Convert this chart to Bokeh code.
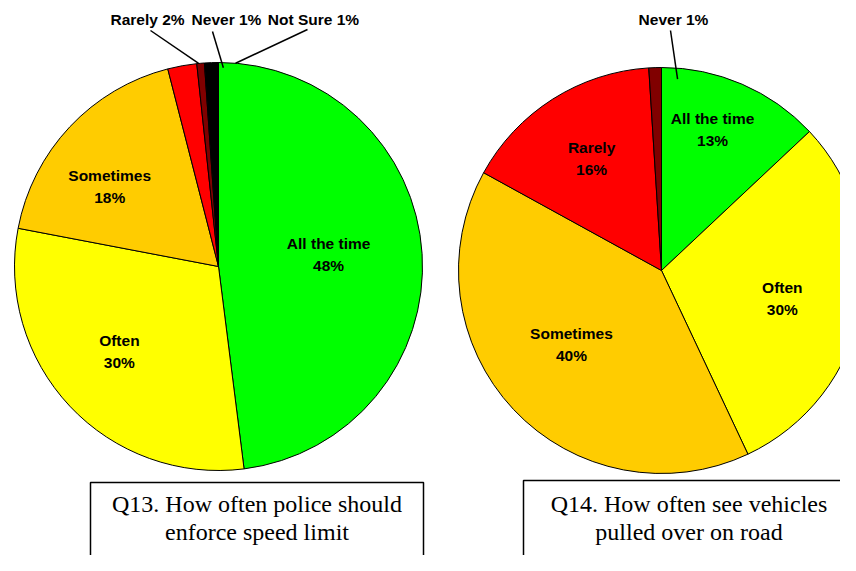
import numpy as np
from bokeh.plotting import figure
from bokeh.models import Range1d, ColumnDataSource
from bokeh.core.properties import value
from bokeh.embed import file_html
from bokeh.resources import INLINE

# ---------------- data ----------------
q13_categories = ["All the time", "Often", "Sometimes", "Rarely", "Never", "Not Sure"]
q13_values = [48, 30, 18, 2.3, 0.6, 1.1]
q13_colors = ["#00FF00", "#FFFF00", "#FFCC00", "#FF0000", "#800000", "#000000"]
q13_title = ["Q13. How often police should", "enforce speed limit"]

q14_categories = ["All the time", "Often", "Sometimes", "Rarely", "Never"]
q14_values = [13, 30, 40, 16, 1]
q14_colors = ["#00FF00", "#FFFF00", "#FFCC00", "#FF0000", "#800000"]
q14_title = ["Q14. How often see vehicles", "pulled over on road"]

# ---------------- layout ----------------
W, H = 840, 555
LABEL_FONT = value("Liberation Sans")
LABEL_SIZE = "15.5px"
CAPTION_FONT = value("Liberation Serif")


def Y(y_img):
    return H - y_img


p = figure(width=W, height=H, x_range=Range1d(0, W), y_range=Range1d(0, H),
           output_backend="svg", toolbar_location=None, min_border=0)
p.axis.visible = False
p.grid.visible = False
p.outline_line_color = None
p.background_fill_color = "white"


def polar(cx, cy, ang_deg, dist):
    a = np.radians(ang_deg)
    return cx + dist * np.sin(a), Y(cy) + dist * np.cos(a)


def draw_pie(cx, cy, r, cats, vals, cols, inner, outer):
    v = np.array(vals, dtype=float)
    frac = v / v.sum()
    cum = np.concatenate([[0.0], np.cumsum(frac)])
    start = np.pi / 2 - 2 * np.pi * cum[:-1]
    end = np.pi / 2 - 2 * np.pi * cum[1:]
    src = ColumnDataSource(dict(start=start, end=end, color=cols))
    p.wedge(x=cx, y=Y(cy), radius=r, start_angle="start", end_angle="end",
            direction="clock", fill_color="color", line_color="black",
            line_width=1, source=src)
    # inner labels: (index, angle clockwise from top, radial fraction)
    for idx, ang, fr in inner:
        x, y = polar(cx, cy, ang, fr * r)
        pct = f"{round(vals[idx])}%"
        p.text(x=[x], y=[y + 11], text=[cats[idx]], text_font=LABEL_FONT,
               text_font_size=LABEL_SIZE, text_font_style="bold",
               text_align="center", text_baseline="middle", text_color="black")
        p.text(x=[x], y=[y - 11], text=[pct], text_font=LABEL_FONT,
               text_font_size=LABEL_SIZE, text_font_style="bold",
               text_align="center", text_baseline="middle", text_color="black")
    # outer labels: (index, label x, label y, line start x, line start y, end angle, end radial fraction)
    for idx, lx, ly, sx, sy, ang, fr in outer:
        pct = f"{round(vals[idx])}%"
        p.text(x=[lx], y=[Y(ly)], text=[f"{cats[idx]} {pct}"], text_font=LABEL_FONT,
               text_font_size=LABEL_SIZE, text_font_style="bold",
               text_align="center", text_baseline="middle", text_color="black")
        ex, ey = polar(cx, cy, ang, fr * r)
        p.segment(x0=[sx], y0=[Y(sy)], x1=[ex], y1=[ey], line_color="black", line_width=1.5)


draw_pie(218, 266, 204, q13_categories, q13_values, q13_colors,
         inner=[(0, 83.8, 0.543), (1, 229.4, 0.64), (2, 306.3, 0.662)],
         outer=[(3, 147, 19, 150, 30, 354.4, 1.0),
                (4, 226, 19, 212, 31, 1.4, 0.975),
                (5, 313, 19, 307, 29, 4.8, 1.0)])

draw_pie(661, 270, 203, q14_categories, q14_values, q14_colors,
         inner=[(0, 19.9, 0.739), (1, 103.0, 0.611), (2, 230.6, 0.574), (3, 328.0, 0.65)],
         outer=[(4, 673, 19, 670, 30, 4.8, 0.946)])


def caption(left, right, top, lines):
    p.quad(left=[left], right=[right], top=[Y(top)], bottom=[Y(620)],
           fill_color="white", line_color="black", line_width=1.5)
    cx = (left + right) / 2
    for i, t in enumerate(lines):
        p.text(x=[cx], y=[Y(503 + 28 * i)], text=[t], text_font=CAPTION_FONT,
               text_font_size="24px", text_align="center", text_baseline="middle",
               text_color="black")


caption(90, 423, 482, q13_title)
caption(523, 854, 480, q14_title)

open("out.html", "w").write(file_html(p, INLINE))
